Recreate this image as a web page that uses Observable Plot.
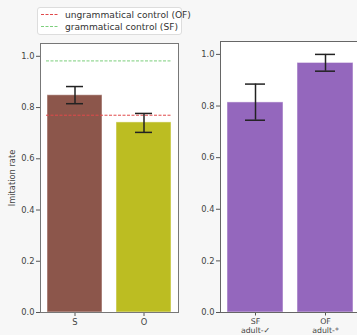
<!DOCTYPE html>
<html><head><meta charset="utf-8">
<script src="https://cdn.jsdelivr.net/npm/d3@7"></script>
<script src="https://cdn.jsdelivr.net/npm/@observablehq/plot@0.6"></script>
<style>
body{margin:0;background:#f7f7f7;width:357px;height:335px;overflow:hidden;position:relative;font-family:"DejaVu Sans",sans-serif}
.pane{position:absolute}
.pane svg{max-width:none !important}
#legend{position:absolute;left:37px;top:7px;width:143px;height:26px;background:#fff;border:1px solid #ddd;border-radius:3px;font-size:9.1px;color:#333}
#legend .row{position:absolute;left:3px;display:flex;align-items:center;white-space:nowrap}
#legend svg{margin-right:6px}
</style></head>
<body>
<div id="legend"></div>
<div id="left" class="pane" style="left:0;top:41px;width:185px"></div>
<div id="right" class="pane" style="left:190px;top:39px;width:172px"></div>
<script>
// data
const leftCats = ["S", "O"];
const leftVals = [0.848, 0.742];
const leftLo = [0.815, 0.703];
const leftHi = [0.882, 0.777];
const leftColors = ["#8c564b", "#bcbd22"];

const rightCats = ["SF", "OF"];
const rightSub = ["adult-✓", "adult-*"];
const rightVals = [0.814, 0.967];
const rightLo = [0.745, 0.935];
const rightHi = [0.885, 1.0];
const rightColor = "#9467bd";

const ofControl = 0.770;
const sfControl = 0.982;
const legendLabels = ["ungrammatical control (OF)", "grammatical control (SF)"];
const legendColors = ["#e0484a", "#7ccf7c"];
const yTicks = [0, 0.2, 0.4, 0.6, 0.8, 1.0];

const leftData = leftCats.map((c, i) => ({c, v: leftVals[i], lo: leftLo[i], hi: leftHi[i], col: leftColors[i]}));
const rightData = rightCats.map((c, i) => ({c, v: rightVals[i], lo: rightLo[i], hi: rightHi[i]}));

const common = {
  style: {background: "transparent", fontFamily: "DejaVu Sans, sans-serif", fontSize: "8.3px", color: "#444", overflow: "visible", maxWidth: "none"},
  y: {domain: [0, 1.05]},
  marginTop: 2, marginBottom: 23
};

const left = Plot.plot({
  ...common,
  width: 185, height: 294, marginLeft: 40, marginRight: 7,
  x: {domain: leftCats, paddingInner: 0.2, paddingOuter: 0.086, align: 0.5},
  marks: [
    Plot.frame({fill: "white", stroke: "none"}),
    Plot.barY(leftData, {x: "c", y: "v", fill: "col", stroke: "#ffffff", strokeOpacity: 0.5, strokeWidth: 1}),
    Plot.ruleY([ofControl], {stroke: legendColors[0], strokeDasharray: "3,1.5", strokeWidth: 1, insetLeft: 6, insetRight: 6}),
    Plot.ruleY([sfControl], {stroke: legendColors[1], strokeDasharray: "3,1.5", strokeWidth: 1, insetLeft: 6, insetRight: 6}),
    Plot.ruleX(leftData, {x: "c", y1: "lo", y2: "hi", stroke: "#222", strokeWidth: 1.5}),
    Plot.tickY(leftData, {x: "c", y: "lo", stroke: "#222", strokeWidth: 1.5, insetLeft: 19, insetRight: 19}),
    Plot.tickY(leftData, {x: "c", y: "hi", stroke: "#222", strokeWidth: 1.5, insetLeft: 19, insetRight: 19}),
    Plot.axisY({ticks: yTicks, tickFormat: d3.format(".1f"), tickSize: 4, tickPadding: 2, label: "Imitation rate", labelAnchor: "center", labelArrow: "none", labelOffset: 31, stroke: "#555"}),
    Plot.axisX({tickSize: 4, tickPadding: 3, label: null, stroke: "#555"}),
    Plot.frame({stroke: "#777", strokeWidth: 1})
  ]
});
document.getElementById("left").append(left);

const subOf = Object.fromEntries(rightCats.map((c, i) => [c, rightSub[i]]));
const right = Plot.plot({
  ...common,
  width: 172, height: 296, marginLeft: 30, marginRight: 3,
  x: {domain: rightCats, paddingInner: 0.2, paddingOuter: 0.079, align: 0.5},
  marks: [
    Plot.frame({fill: "white", stroke: "none"}),
    Plot.barY(rightData, {x: "c", y: "v", fill: rightColor, stroke: "#ffffff", strokeOpacity: 0.5, strokeWidth: 1}),
    Plot.ruleX(rightData, {x: "c", y1: "lo", y2: "hi", stroke: "#222", strokeWidth: 1.5}),
    Plot.tickY(rightData, {x: "c", y: "lo", stroke: "#222", strokeWidth: 1.5, insetLeft: 18, insetRight: 18}),
    Plot.tickY(rightData, {x: "c", y: "hi", stroke: "#222", strokeWidth: 1.5, insetLeft: 18, insetRight: 18}),
    Plot.axisY({ticks: yTicks, tickFormat: d3.format(".1f"), tickSize: 4, tickPadding: 2, label: null, stroke: "#555"}),
    Plot.axisX({tickSize: 3.5, tickPadding: 2, label: null, stroke: "#555", fontSize: 7.8, lineHeight: 1.15, tickFormat: d => d + "\n" + subOf[d]}),
    Plot.frame({stroke: "#666", strokeWidth: 1})
  ]
});
document.getElementById("right").append(right);

// legend
const lg = document.getElementById("legend");
legendLabels.forEach((lab, i) => {
  const row = document.createElement("div");
  row.className = "row";
  row.style.top = (i === 0 ? 1 : 13) + "px";
  row.innerHTML = `<svg width="18" height="11"><line x1="0" x2="18" y1="5.5" y2="5.5" stroke="${legendColors[i]}" stroke-width="1" stroke-dasharray="3,1.5"/></svg><span>${lab}</span>`;
  lg.append(row);
});
</script>
</body></html>
